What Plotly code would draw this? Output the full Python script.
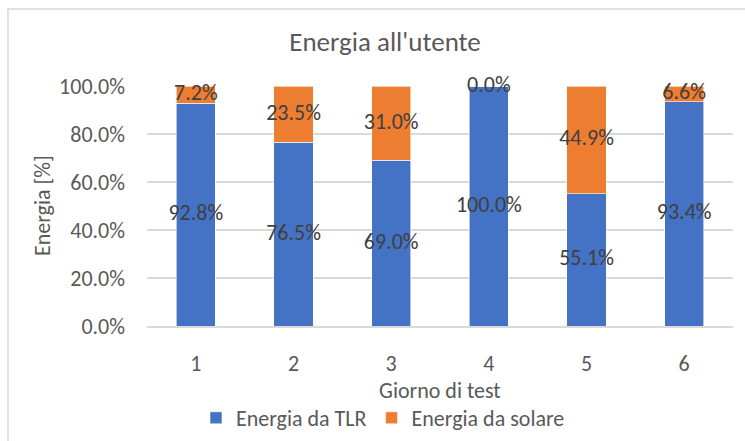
import plotly.graph_objects as go

# Daily energy delivered to the user, split by source (percent of total)
giorni = ["1", "2", "3", "4", "5", "6"]
energia_tlr = [92.8, 76.5, 69.0, 100.0, 55.1, 93.4]
energia_solare = [7.2, 23.5, 31.0, 0.0, 44.9, 6.6]
y_ticks = [0, 20, 40, 60, 80, 100]

BLU = "#4472C4"
ARANCIO = "#ED7D31"
GRIGIO_TESTO = "#595959"
GRIGIO_LABEL = "#404040"
GRIGIO_GRIGLIA = "#D9D9D9"
FONT = "Carlito, Lato, sans-serif"
SZ = 22

fig = go.Figure()
fig.add_trace(go.Bar(
    x=giorni, y=energia_tlr, name="Energia da TLR",
    marker=dict(color=BLU, line=dict(color="#ffffff", width=0.6)),
))
fig.add_trace(go.Bar(
    x=giorni, y=energia_solare, name="Energia da solare",
    marker=dict(color=ARANCIO, line=dict(color="#ffffff", width=0.6)),
))

# Data labels, centred on each stacked segment
centri_tlr = [v / 2 for v in energia_tlr]
centri_sol = [t + s / 2 for t, s in zip(energia_tlr, energia_solare)]
for centri, valori in ((centri_tlr, energia_tlr), (centri_sol, energia_solare)):
    fig.add_trace(go.Scatter(
        x=giorni, y=centri, mode="text",
        text=[f"{v:.1f}%" for v in valori],
        textposition="middle center",
        textfont=dict(family=FONT, size=SZ, color=GRIGIO_LABEL),
        showlegend=False, hoverinfo="skip", cliponaxis=False,
    ))

L, R, T, B = 147, 12, 86, 115
W, H = 745, 441
pw, ph = W - L - R, H - T - B

def px_x(px):
    return (px - L) / pw

def px_y(py):
    return (H - B - py) / ph

fig.update_layout(
    width=W, height=H,
    margin=dict(l=L, r=R, t=T, b=B, autoexpand=False),
    paper_bgcolor="white", plot_bgcolor="white",
    barmode="stack", bargap=0.6,
    font=dict(family=FONT, color=GRIGIO_TESTO),
    title=dict(
        text="Energia all'utente", x=385 / W, xref="container", xanchor="center",
        y=1 - 42 / H, yref="container", yanchor="middle",
        font=dict(family=FONT, size=27, color=GRIGIO_TESTO),
    ),
    xaxis=dict(
        type="category", showgrid=False, ticks="",
        showline=True, linecolor=GRIGIO_GRIGLIA, linewidth=1.5,
        tickfont=dict(family=FONT, size=SZ, color=GRIGIO_TESTO),
        ticklabelstandoff=17, automargin=False,
    ),
    yaxis=dict(
        range=[0, 100], tickvals=y_ticks,
        ticktext=[f"{v:.1f}%" for v in y_ticks],
        showgrid=True, gridcolor=GRIGIO_GRIGLIA, gridwidth=1.5,
        zeroline=False, ticks="",
        tickfont=dict(family=FONT, size=SZ, color=GRIGIO_TESTO),
        ticklabelstandoff=21, automargin=False,
    ),
    legend=dict(
        orientation="h", x=px_x(383), xanchor="center",
        y=px_y(418), yanchor="middle",
        font=dict(family=FONT, size=SZ, color=GRIGIO_TESTO),
        traceorder="normal", itemwidth=30,
    ),
    showlegend=True,
    annotations=[
        dict(text="Giorno di test", xref="paper", yref="paper",
             x=0.5, y=px_y(390), xanchor="center", yanchor="middle",
             showarrow=False, font=dict(family=FONT, size=SZ, color=GRIGIO_TESTO)),
        dict(text="Energia [%]", xref="paper", yref="paper",
             x=px_x(42), y=0.5, xanchor="center", yanchor="middle", textangle=-90,
             showarrow=False, font=dict(family=FONT, size=SZ, color=GRIGIO_TESTO)),
    ],
    shapes=[
        dict(type="rect", xref="paper", yref="paper",
             x0=px_x(8), x1=px_x(770), y0=px_y(470), y1=px_y(9),
             line=dict(color=GRIGIO_GRIGLIA, width=1.5), fillcolor="rgba(0,0,0,0)",
             layer="below"),
    ],
)

fig.write_html("out.html")
